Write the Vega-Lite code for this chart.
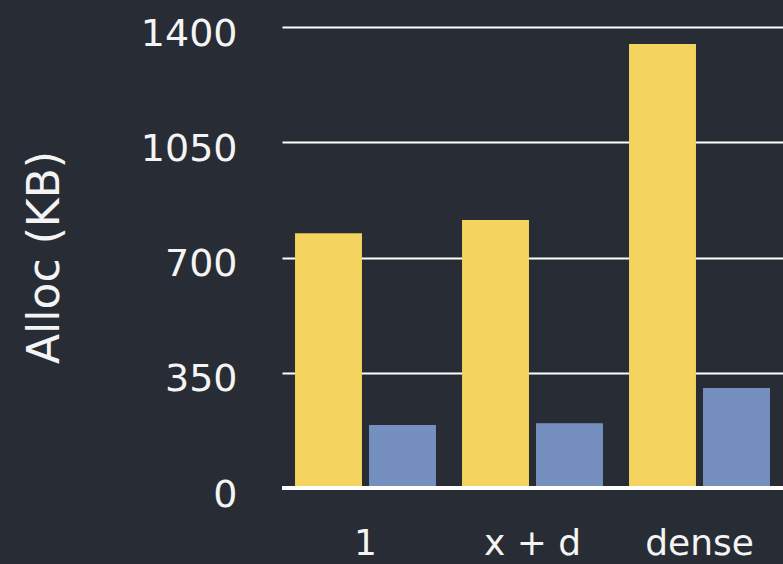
{
  "$schema": "https://vega.github.io/schema/vega-lite/v6.json",
  "autosize": "none",
  "width": 501,
  "height": 461,
  "padding": {"left": 282, "top": 27, "right": 0, "bottom": 76},
  "background": "#282c35",
  "data": {
    "values": [
      {"config": "1", "series": "before", "alloc": 774},
      {"config": "1", "series": "after", "alloc": 191},
      {"config": "x + d", "series": "before", "alloc": 814},
      {"config": "x + d", "series": "after", "alloc": 197},
      {"config": "dense", "series": "before", "alloc": 1348},
      {"config": "dense", "series": "after", "alloc": 304}
    ]
  },
  "layer": [
    {
      "mark": {"type": "bar"},
      "encoding": {
        "x": {
          "field": "config",
          "type": "nominal",
          "sort": ["1", "x + d", "dense"],
          "scale": {"paddingInner": 0.156, "paddingOuter": 0.078},
          "axis": {
            "title": null,
            "labelAngle": 0,
            "labelFont": "DejaVu Sans",
            "labelFontSize": 36,
            "labelColor": "#f4f4f4",
            "labelBaseline": "middle",
            "labelPadding": 55,
            "ticks": false,
            "tickSize": 0,
            "domain": false,
            "grid": false
          }
        },
        "xOffset": {
          "field": "series",
          "type": "nominal",
          "sort": ["before", "after"],
          "scale": {"paddingInner": 0.095, "paddingOuter": 0}
        },
        "y": {
          "field": "alloc",
          "type": "quantitative",
          "scale": {"domain": [0, 1400], "nice": false},
          "axis": {
            "values": [0, 350, 700, 1050, 1400],
            "format": "d",
            "title": "Alloc (KB)",
            "titleFont": "DejaVu Sans",
            "titleFontSize": 44,
            "titleFontWeight": "normal",
            "titleColor": "#f4f4f4",
            "titleAngle": -90,
            "titleBaseline": "middle",
            "titleAlign": "center",
            "titleX": -237,
            "titleY": 230,
            "labelFont": "DejaVu Sans",
            "labelFontSize": 38,
            "labelColor": "#f4f4f4",
            "labelPadding": 45,
            "labelOffset": 7,
            "ticks": false,
            "tickSize": 0,
            "domain": false,
            "grid": true,
            "gridColor": "#ffffff",
            "gridWidth": 2,
            "gridOpacity": 1
          }
        },
        "color": {
          "field": "series",
          "type": "nominal",
          "scale": {"domain": ["before", "after"], "range": ["#f4d35e", "#7590bf"]},
          "legend": null
        }
      }
    },
    {
      "mark": {"type": "rule", "color": "#ffffff", "strokeWidth": 3},
      "encoding": {
        "y": {"datum": 0, "type": "quantitative"}
      }
    }
  ],
  "config": {
    "view": {"stroke": null}
  }
}
